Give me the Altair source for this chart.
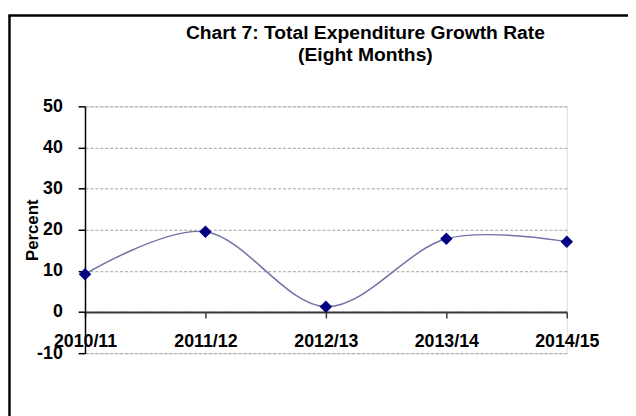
import altair as alt
import pandas as pd

years = ["2010/11", "2011/12", "2012/13", "2013/14", "2014/15"]
growth = [9.2, 19.5, 1.3, 17.8, 17.1]
y_ticks = [-10, 0, 10, 20, 30, 40, 50]
title_lines = ["Chart 7: Total Expenditure Growth Rate", "(Eight Months)"]

df = pd.DataFrame({"year": years, "growth": growth})
FONT = "Liberation Sans"

x = alt.X(
    "year:N",
    sort=years,
    scale=alt.Scale(type="point", padding=0),
    axis=alt.Axis(
        title=None, orient="bottom", offset=-41.67, grid=False, labelAngle=0,
        domainColor="#3a3a3a", domainWidth=2, tickColor="#3a3a3a", tickWidth=1.5,
        tickSize=6, labelFont=FONT, labelFontSize=18, labelFontWeight="bold",
        labelColor="black", labelPadding=15,
    ),
)
y = alt.Y(
    "growth:Q",
    scale=alt.Scale(domain=[-10, 50], nice=False, zero=False),
    axis=alt.Axis(
        values=y_ticks, title="Percent", grid=True, gridColor="#a0a0a0",
        gridDash=[3, 2], gridWidth=1, domainColor="black", domainWidth=1.5,
        tickColor="black", tickSize=7, tickWidth=1.5, labelFont=FONT,
        labelFontSize=18, labelFontWeight="bold", labelColor="black",
        labelExpr="toString(datum.value)",
        labelPadding=16, titleFont=FONT, titleFontSize=17, titleFontWeight="bold",
        titleColor="black", titleX=-53, titleY=125, titleBaseline="middle",
        titleAngle=270,
    ),
)

base = alt.Chart(df)
line = base.mark_line(interpolate="cardinal", color="#7171a6", strokeWidth=1.5).encode(x=x, y=y)
pts = base.mark_point(shape="diamond", filled=True, size=160, color="#000080", opacity=1).encode(x=x, y=y)

frame_df = pd.DataFrame({"k": [0]})
left_border = alt.Chart(frame_df).mark_rule(color="black", strokeWidth=2.5).encode(
    x=alt.value(-76.5), y=alt.value(-92), y2=alt.value(320)
)
top_border = alt.Chart(frame_df).mark_rule(color="black", strokeWidth=2.5).encode(
    x=alt.value(-77.7), x2=alt.value(560), y=alt.value(-92)
)

title_style = dict(font=FONT, fontSize=19.5, fontWeight="bold", color="black",
                   align="center", baseline="middle")
title1 = alt.Chart(frame_df).mark_text(**title_style).encode(
    text=alt.value(title_lines[0]), x=alt.value(284), y=alt.value(-74)
)
title2 = alt.Chart(frame_df).mark_text(**title_style).encode(
    text=alt.value(title_lines[1]), x=alt.value(284), y=alt.value(-52)
)

chart = alt.layer(line, pts, left_border, top_border, title1, title2).properties(
    width=488,
    height=250,
    autosize=alt.AutoSizeParams(type="none"),
    padding={"left": 78, "top": 97, "right": 62, "bottom": 61},
).configure_view(stroke=None).configure(background="white")

chart.save("out.html", embed_options={"renderer": "svg", "actions": False})
